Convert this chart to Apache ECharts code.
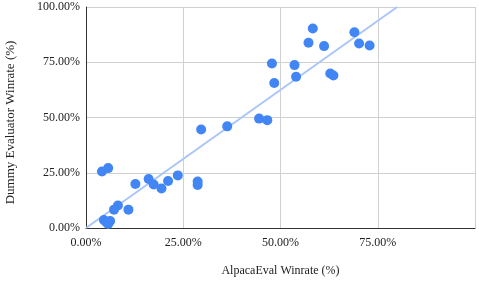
<!DOCTYPE html>
<html><head><meta charset="utf-8">
<script src="https://cdn.jsdelivr.net/npm/echarts@6/dist/echarts.min.js"></script>
<style>html,body{margin:0;padding:0;background:#fff}#c{width:479px;height:284px}</style>
</head><body><div id="c"></div>
<script>
const alpacaX = [4.1, 5.7, 12.7, 16.1, 17.4, 19.4, 21.1, 23.6, 28.7, 28.7, 10.9, 8.2, 7.2, 4.6, 6.2, 5.7, 5.2,
  29.6, 36.3, 44.5, 46.6, 47.8, 48.4, 53.6, 54.0, 57.2, 58.3, 61.2, 62.8, 63.6, 69.0, 70.2, 72.9];
const dummyY = [25.6, 27.1, 19.9, 22.2, 19.7, 17.9, 21.3, 23.8, 21.0, 19.5, 8.3, 10.2, 8.3, 3.6, 3.2, 1.8, 2.6,
  44.6, 46.0, 49.5, 48.8, 74.4, 65.6, 73.7, 68.4, 83.8, 90.3, 82.3, 69.9, 69.0, 88.6, 83.5, 82.6];
const trendX = [0, 80];
const trendY = [0, 100];
const xTicks = [0, 25, 50, 75, 100];
const yTicks = [0, 25, 50, 75, 100];

const font = 'Liberation Serif, Times New Roman, serif';
const chart = echarts.init(document.getElementById('c'));
chart.setOption({
  animation: false,
  grid: {left: 86, right: 4, top: 7, bottom: 56, containLabel: false, outerBoundsMode: 'none'},
  xAxis: {
    type: 'value', min: xTicks[0], max: xTicks[xTicks.length-1], interval: 25,
    name: 'AlpacaEval Winrate (%)', nameLocation: 'middle', nameGap: 37,
    nameTextStyle: {fontFamily: font, fontSize: 12, color: '#222'},
    axisLine: {show: true, lineStyle: {color: '#333', width: 1}},
    axisTick: {show: false},
    axisLabel: {fontFamily: font, fontSize: 12, color: '#222', margin: 9, showMaxLabel: false,
      formatter: v => v.toFixed(2) + '%'},
    splitLine: {show: true, lineStyle: {color: '#d0d0d0', width: 1}}
  },
  yAxis: {
    type: 'value', min: yTicks[0], max: yTicks[yTicks.length-1], interval: 25,
    name: 'Dummy Evaluator Winrate (%)', nameLocation: 'middle', nameGap: 69,
    nameTextStyle: {fontFamily: font, fontSize: 13, color: '#222', padding: [0, 10, 0, 0]},
    axisLine: {show: true, lineStyle: {color: '#333', width: 1}},
    axisTick: {show: false},
    axisLabel: {fontFamily: font, fontSize: 12, color: '#222', margin: 6,
      formatter: v => v.toFixed(2) + '%'},
    splitLine: {show: true, lineStyle: {color: '#d0d0d0', width: 1}}
  },
  series: [
    {
      type: 'line', data: trendX.map((x, i) => [x, trendY[i]]),
      symbol: 'none', lineStyle: {color: '#a9c6f7', width: 2}, z: 1, silent: true
    },
    {
      type: 'scatter', data: alpacaX.map((x, i) => [x, dummyY[i]]),
      symbolSize: 10, itemStyle: {color: '#4285f4', opacity: 1}, z: 2
    }
  ]
});
</script></body></html>
